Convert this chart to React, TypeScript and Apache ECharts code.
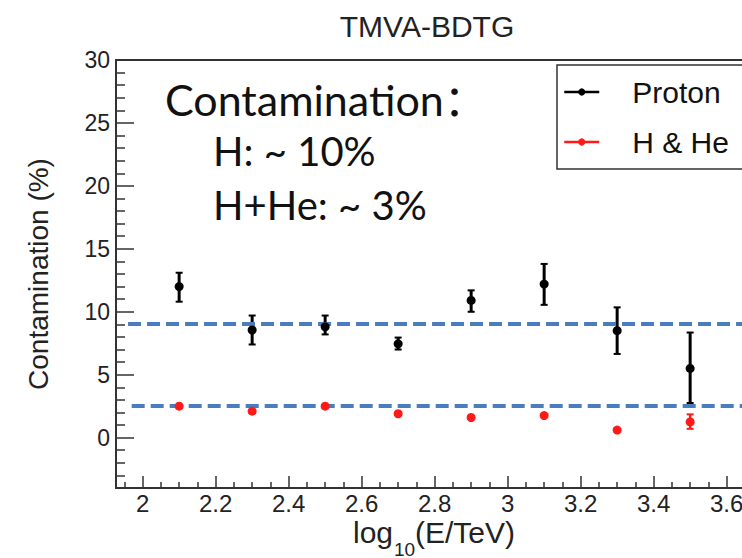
import React, { useEffect, useRef } from "react";
import * as echarts from "echarts";

// Energy bin centres, log10(E/TeV)
const energyBins = [2.1, 2.3, 2.5, 2.7, 2.9, 3.1, 3.3, 3.5];

// Proton contamination (%) with error band limits
const protonValues = [12.0, 8.55, 8.8, 7.45, 10.9, 12.2, 8.5, 5.5];
const protonLow = [10.8, 7.4, 8.2, 7.0, 10.0, 10.55, 6.65, 2.75];
const protonHigh = [13.1, 9.7, 9.7, 7.95, 11.7, 13.8, 10.35, 8.35];

// H & He contamination (%) with error band limits
const hheValues = [2.5, 2.1, 2.5, 1.9, 1.6, 1.75, 0.6, 1.25];
const hheLow = [2.4, 2.0, 2.4, 1.8, 1.5, 1.65, 0.5, 0.7];
const hheHigh = [2.6, 2.2, 2.6, 2.0, 1.7, 1.85, 0.7, 1.85];

// Dashed reference levels (%)
const referenceLevels = [9.05, 2.55];

// Axis ticks
const xMajorTicks = [2.0, 2.2, 2.4, 2.6, 2.8, 3.0, 3.2, 3.4, 3.6];
const xMinorTicks = [
  1.95, 2.05, 2.1, 2.15, 2.25, 2.3, 2.35, 2.45, 2.5, 2.55, 2.65, 2.7, 2.75,
  2.85, 2.9, 2.95, 3.05, 3.1, 3.15, 3.25, 3.3, 3.35, 3.45, 3.5, 3.55, 3.65,
];
const yMajorTicks = [0, 5, 10, 15, 20, 25, 30];
const yMinorTicks = [
  -4, -3, -2, -1, 1, 2, 3, 4, 6, 7, 8, 9, 11, 12, 13, 14, 16, 17, 18, 19, 21,
  22, 23, 24, 26, 27, 28, 29,
];

const X_MIN = 1.927;
const X_MAX = 3.697;
const Y_MIN = -4;
const Y_MAX = 30;
const PX_PER_X = 365;

const AXIS_FONT = "'Liberation Sans', Arial, Helvetica, sans-serif";
const NOTE_FONT = "Lato, 'Noto Sans', 'Noto Sans CJK SC', sans-serif";
const AXIS_COLOR = "#333";
const PROTON_COLOR = "#000000";
const HHE_COLOR = "#ff1a1a";
const LEVEL_COLOR = "#4a7cc0";

const fmt = (v: number) => String(Number(v.toFixed(2)));

function errorBarSeries(name: string, low: number[], high: number[], color: string, width: number) {
  return {
    type: "custom",
    name,
    xAxisIndex: 0,
    yAxisIndex: 0,
    z: 4,
    silent: true,
    data: energyBins.map((x, i) => [x, low[i], high[i]]),
    encode: { x: 0, y: [1, 2] },
    renderItem: (_params: any, api: any) => {
      const x = api.value(0);
      const top = api.coord([x, api.value(2)]);
      const bot = api.coord([x, api.value(1)]);
      const cap = 3.5;
      return {
        type: "group",
        children: [
          {
            type: "line",
            shape: { x1: top[0], y1: top[1], x2: bot[0], y2: bot[1] },
            style: { stroke: color, lineWidth: width },
          },
          {
            type: "line",
            shape: { x1: top[0] - cap, y1: top[1], x2: top[0] + cap, y2: top[1] },
            style: { stroke: color, lineWidth: 2 },
          },
          {
            type: "line",
            shape: { x1: bot[0] - cap, y1: bot[1], x2: bot[0] + cap, y2: bot[1] },
            style: { stroke: color, lineWidth: 2 },
          },
        ],
      };
    },
  };
}

function pointSeries(name: string, values: number[], color: string) {
  return {
    type: "line",
    name,
    xAxisIndex: 0,
    yAxisIndex: 0,
    z: 5,
    data: energyBins.map((x, i) => [x, values[i]]),
    symbol: "circle",
    symbolSize: 9,
    showSymbol: true,
    lineStyle: { color, width: 2.5, opacity: 0 },
    itemStyle: { color },
  };
}

export default function App() {
  const ref = useRef<HTMLDivElement>(null);

  useEffect(() => {
    if (!ref.current) return;
    const chart = echarts.init(ref.current, undefined, { renderer: "svg" });

    const option: any = {
      animation: false,
      backgroundColor: "#ffffff",
      title: {
        text: "TMVA-BDTG",
        left: 422,
        top: 6,
        textAlign: "center",
        textStyle: { fontFamily: AXIS_FONT, fontSize: 30, fontWeight: "normal", color: "#222" },
      },
      legend: {
        left: 557,
        top: 65,
        orient: "vertical",
        data: [
          { name: "Proton", lineStyle: { width: 2.5, opacity: 1 } },
          { name: "H & He", lineStyle: { width: 2.5, opacity: 1 } },
        ],
        itemWidth: 35,
        itemHeight: 9,
        itemGap: 20,
        padding: [12, 140, 12, 6],
        borderColor: AXIS_COLOR,
        borderWidth: 1.5,
        backgroundColor: "#fff",
        selectedMode: false,
        textStyle: {
          fontFamily: AXIS_FONT,
          fontSize: 30,
          lineHeight: 30,
          color: "#111",
          padding: [0, 0, 0, 28],
        },
      },
      grid: {
        left: 116,
        top: 60,
        bottom: 70,
        width: (X_MAX - X_MIN) * PX_PER_X,
        outerBoundsMode: "none",
        show: true,
        borderColor: AXIS_COLOR,
        borderWidth: 2,
        backgroundColor: "transparent",
      },
      xAxis: [
        {
          type: "value",
          position: "bottom",
          min: X_MIN,
          max: X_MAX,
          axisLine: { show: true, onZero: false, lineStyle: { color: AXIS_COLOR, width: 2 } },
          axisTick: {
            show: true,
            inside: true,
            length: 12,
            customValues: xMajorTicks,
            lineStyle: { color: AXIS_COLOR, width: 1.5 },
          },
          axisLabel: {
            show: true,
            customValues: xMajorTicks,
            formatter: (v: number) => fmt(v),
            margin: 3,
            fontFamily: AXIS_FONT,
            fontSize: 24,
            color: "#222",
          },
          splitLine: { show: false },
        },
        {
          type: "value",
          position: "bottom",
          min: X_MIN,
          max: X_MAX,
          axisLine: { show: false, onZero: false },
          axisTick: {
            show: true,
            inside: true,
            length: 6,
            customValues: xMinorTicks,
            lineStyle: { color: AXIS_COLOR, width: 1.5 },
          },
          axisLabel: { show: false },
          splitLine: { show: false },
        },
      ],
      yAxis: [
        {
          type: "value",
          position: "left",
          min: Y_MIN,
          max: Y_MAX,
          name: "Contamination (%)",
          nameLocation: "middle",
          nameGap: 64,
          nameTextStyle: { fontFamily: AXIS_FONT, fontSize: 28, color: "#222" },
          axisLine: { show: true, onZero: false, lineStyle: { color: AXIS_COLOR, width: 2 } },
          axisTick: {
            show: true,
            inside: true,
            length: 18,
            customValues: yMajorTicks,
            lineStyle: { color: AXIS_COLOR, width: 1.5 },
          },
          axisLabel: {
            show: true,
            customValues: yMajorTicks,
            formatter: (v: number) => fmt(v),
            margin: 6,
            fontFamily: AXIS_FONT,
            fontSize: 23,
            color: "#222",
          },
          splitLine: { show: false },
        },
        {
          type: "value",
          position: "left",
          min: Y_MIN,
          max: Y_MAX,
          axisLine: { show: false, onZero: false },
          axisTick: {
            show: true,
            inside: true,
            length: 9,
            customValues: yMinorTicks,
            lineStyle: { color: AXIS_COLOR, width: 1.5 },
          },
          axisLabel: { show: false },
          splitLine: { show: false },
        },
      ],
      series: [
        {
          type: "line",
          name: "levels",
          xAxisIndex: 0,
          yAxisIndex: 0,
          data: [],
          z: 2,
          markLine: {
            silent: true,
            symbol: "none",
            label: { show: false },
            lineStyle: { color: LEVEL_COLOR, width: 4, type: [13, 6] },
            data: referenceLevels.map((lvl, i) => [
              { coord: [i === 0 ? 1.96 : 1.97, lvl] },
              { coord: [X_MAX, lvl] },
            ]),
          },
        },
        errorBarSeries("Proton err", protonLow, protonHigh, PROTON_COLOR, 3),
        errorBarSeries("H & He err", hheLow, hheHigh, HHE_COLOR, 2.5),
        pointSeries("Proton", protonValues, PROTON_COLOR),
        pointSeries("H & He", hheValues, HHE_COLOR),
      ],
      graphic: [
        // x-axis title: log10(E/TeV) with a subscripted base
        {
          type: "group",
          z: 10,
          children: [
            {
              type: "text",
              x: 353,
              y: 532,
              style: { text: "log", fontFamily: AXIS_FONT, fontSize: 30, fill: "#222", verticalAlign: "middle" },
            },
            {
              type: "text",
              x: 394,
              y: 549,
              style: { text: "10", fontFamily: AXIS_FONT, fontSize: 19, fill: "#222", verticalAlign: "middle" },
            },
            {
              type: "text",
              x: 415,
              y: 532,
              style: { text: "(E/TeV)", fontFamily: AXIS_FONT, fontSize: 30, fill: "#222", verticalAlign: "middle" },
            },
          ],
        },
        {
          type: "text",
          x: 165,
          y: 99,
          z: 10,
          style: {
            text: "Contamination：",
            fontFamily: NOTE_FONT,
            fontSize: 43,
            fill: "#111",
            verticalAlign: "middle",
          },
        },
        {
          type: "text",
          x: 213,
          y: 151,
          z: 10,
          style: {
            text: "H: ~ 10%",
            fontFamily: NOTE_FONT,
            fontSize: 40,
            fill: "#111",
            verticalAlign: "middle",
          },
        },
        {
          type: "text",
          x: 213,
          y: 205,
          z: 10,
          style: {
            text: "H+He: ~ 3%",
            fontFamily: NOTE_FONT,
            fontSize: 40,
            fill: "#111",
            verticalAlign: "middle",
          },
        },
      ],
    };

    chart.setOption(option);
    return () => chart.dispose();
  }, []);

  return <div ref={ref} style={{ width: 742, height: 558, position: "absolute", left: 0, top: 0 }} />;
}
